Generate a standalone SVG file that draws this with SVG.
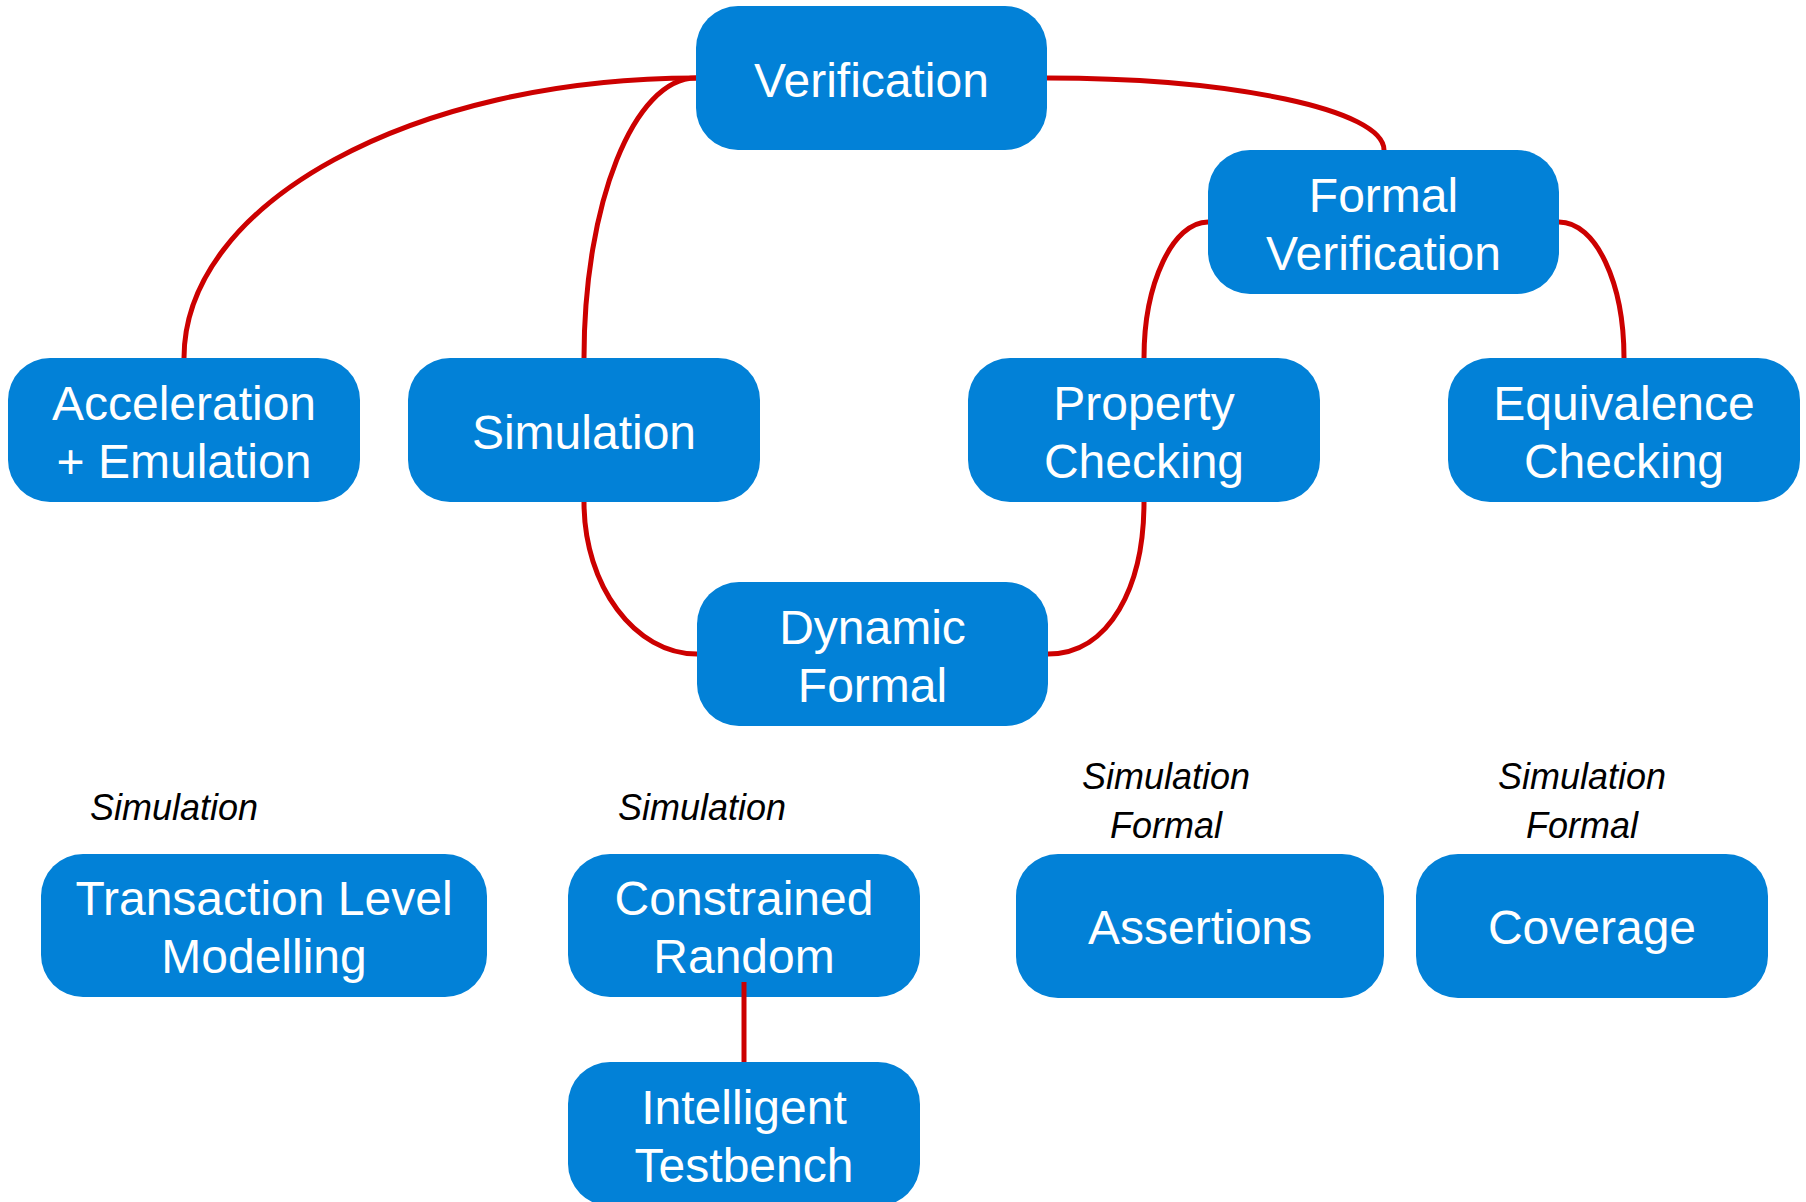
<svg xmlns="http://www.w3.org/2000/svg" width="1806" height="1202" viewBox="0 0 1806 1202">
<style>
.box{fill:#0281D7;}
.t{font-family:"Liberation Sans",Arial,sans-serif;font-size:48px;fill:#FFFFFF;text-anchor:middle;}
.lab{font-family:"Liberation Sans",Arial,sans-serif;font-size:36px;font-style:italic;fill:#000000;text-anchor:middle;}
.c{fill:none;stroke:#CC0000;stroke-width:5;}
</style>
<rect width="1806" height="1202" fill="#FFFFFF"/>
<g id="nodes">
<g id="verification"><rect class="box" x="696" y="6" width="351" height="144" rx="42"/><text class="t" x="871.5" y="97">Verification</text></g>
<g id="formal-verification"><rect class="box" x="1208" y="150" width="351" height="144" rx="42"/><text class="t" x="1383.5" y="212">Formal</text><text class="t" x="1383.5" y="270">Verification</text></g>
<g id="acceleration"><rect class="box" x="8" y="358" width="352" height="144" rx="42"/><text class="t" x="184" y="420">Acceleration</text><text class="t" x="184" y="478">+ Emulation</text></g>
<g id="simulation"><rect class="box" x="408" y="358" width="352" height="144" rx="42"/><text class="t" x="584" y="449">Simulation</text></g>
<g id="property-checking"><rect class="box" x="968" y="358" width="352" height="144" rx="42"/><text class="t" x="1144" y="420">Property</text><text class="t" x="1144" y="478">Checking</text></g>
<g id="equivalence-checking"><rect class="box" x="1448" y="358" width="352" height="144" rx="42"/><text class="t" x="1624" y="420">Equivalence</text><text class="t" x="1624" y="478">Checking</text></g>
<g id="dynamic-formal"><rect class="box" x="697" y="582" width="351" height="144" rx="42"/><text class="t" x="872.5" y="644">Dynamic</text><text class="t" x="872.5" y="702">Formal</text></g>
<g id="tlm"><rect class="box" x="41" y="854" width="446" height="143" rx="42"/><text class="t" x="264" y="915">Transaction Level</text><text class="t" x="264" y="973">Modelling</text></g>
<g id="constrained-random"><rect class="box" x="568" y="854" width="352" height="143" rx="42"/><text class="t" x="744" y="915">Constrained</text><text class="t" x="744" y="973">Random</text></g>
<g id="intelligent-testbench"><rect class="box" x="568" y="1062" width="352" height="144" rx="42"/><text class="t" x="744" y="1124">Intelligent</text><text class="t" x="744" y="1182">Testbench</text></g>
<g id="assertions"><rect class="box" x="1016" y="854" width="368" height="144" rx="42"/><text class="t" x="1200" y="944">Assertions</text></g>
<g id="coverage"><rect class="box" x="1416" y="854" width="352" height="144" rx="42"/><text class="t" x="1592" y="944">Coverage</text></g>
</g>
<g id="labels">
<text class="lab" x="174" y="820">Simulation</text>
<text class="lab" x="702" y="820">Simulation</text>
<text class="lab" x="1166" y="789">Simulation</text>
<text class="lab" x="1166" y="838">Formal</text>
<text class="lab" x="1582" y="789">Simulation</text>
<text class="lab" x="1582" y="838">Formal</text>
</g>
<g id="connectors">
<path class="c" d="M696,78 C413,78 184,203 184,358"/>
<path class="c" d="M696,78 C634,78 584,203 584,358"/>
<path class="c" d="M1047,78 C1233,78 1384,110 1384,150"/>
<path class="c" d="M1208,222 C1173,222 1144,283 1144,358"/>
<path class="c" d="M1559,222 C1596,222 1624,283 1624,358"/>
<path class="c" d="M584,502 C584,586 635,654 697,654"/>
<path class="c" d="M1144,502 C1144,586 1110,654 1048,654"/>
<path class="c" d="M744,982 L744,1062"/>
</g>
</svg>
